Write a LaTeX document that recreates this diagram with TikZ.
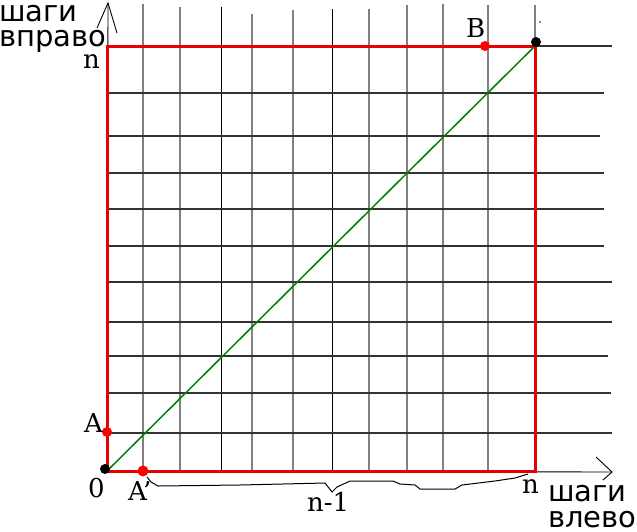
\documentclass[tikz,border=0pt]{standalone}
\usepackage{fontspec}
\setmainfont{DejaVu Serif}
\newfontfamily\lblsans{DejaVu Sans}
\definecolor{gridgray}{RGB}{128,128,128}
\definecolor{griddark}{RGB}{50,50,50}
\definecolor{sqred}{RGB}{230,0,0}
\definecolor{diaggreen}{RGB}{0,128,0}
\begin{document}
\begin{tikzpicture}[x=1pt,y=-1pt,
  vline/.style={gridgray,line width=1.3pt},
  vlineb/.style={black,line width=0.8pt},
  hline/.style={griddark,line width=1.1pt},
  square/.style={sqred,line width=3pt},
  diag/.style={diaggreen,line width=1.5pt},
  axis/.style={black,line width=0.9pt},
  reddot/.style={circle,fill=red,inner sep=0pt,minimum size=10pt},
  blackdot/.style={circle,fill=black,inner sep=0pt,minimum size=10pt},
  serif/.style={font=\fontsize{26}{30}\selectfont,inner sep=0pt},
  sanslbl/.style={font=\lblsans\fontsize{29}{32}\selectfont,inner sep=0pt,text height=17pt,text depth=3pt}]
\useasboundingbox (0,0) rectangle (637,531);
% corners
\coordinate (O) at (107,471);
\coordinate (TL) at (107,46);
\coordinate (TR) at (535,46);
\coordinate (BR) at (535,471);
% axes
\coordinate (ytip) at (108,3);
\coordinate (xtip) at (612,472);
\draw[axis] (O) -- (ytip);
\draw[axis] (97,28) -- (ytip) -- (117,33);
\draw[axis] (O) -- (xtip);
\draw[axis] (596,457) -- (xtip) -- (603,480);
% vertical grid lines
\foreach \x/\t in {143/4,180/7,252/14,293/10,369/9,407/5,443/4,488/5,535/5}
  \draw[vline] (\x,\t) -- (\x,471);
\foreach \x/\t in {221/7,332/9}
  \draw[vlineb] (\x,\t) -- (\x,471);
% horizontal grid lines
\foreach \y/\r in {46/612,93/604,136/600,173/604,209/604,246/604,282/612,322/612,356/608,393/611,433/612}
  \draw[hline] (107,\y) -- (\r,\y);
% red square
\draw[square] (TL) -- (TR) -- (BR) -- (O) -- cycle;
% diagonal
\draw[diag] (O) -- (TR);
% dots
\node[blackdot] (d0) at (105,469) {};
\node[blackdot] (dn) at (536,42) {};
\node[reddot] (dA) at (107,432) {};
\node[reddot,minimum size=11pt] (dA2) at (143,471) {};
\node[reddot] (dB) at (485,46) {};
\fill (540,22) circle (0.8pt);
% brace
\draw[black,line width=1pt] (147,477) -- (151,482) -- (158,486) -- (240,485)
  -- (325,483) -- (332,492) -- (337,487) -- (350,481) -- (393,481) -- (400,484)
  -- (415,485) -- (420,489) -- (455,489) -- (462,485) -- (495,481) -- (515,478) -- (528,474);
% labels
\node[serif,anchor=base west] (ln) at (83,68) {n};
\node[serif,anchor=base west] (lB) at (466,37) {B};
\node[serif,anchor=base west] (lA) at (84,432) {A};
\node[serif,anchor=base west] (l0) at (88,497) {0};
\node[serif,anchor=base west] (lA2) at (128,500) {A'};
\node[serif,anchor=base west] (ln2) at (522,493) {n};
\node[serif,anchor=base west] (lnm) at (307,511) {n-1};
\node[sanslbl,anchor=base west] (ly1) at (-1,21) {шаги};
\node[sanslbl,anchor=base west] (ly2) at (-1,46) {вправо};
\node[sanslbl,anchor=base west] (lx1) at (548,501) {шаги};
\node[sanslbl,anchor=base west] (lx2) at (548,527) {влево};
\end{tikzpicture}
\end{document}
